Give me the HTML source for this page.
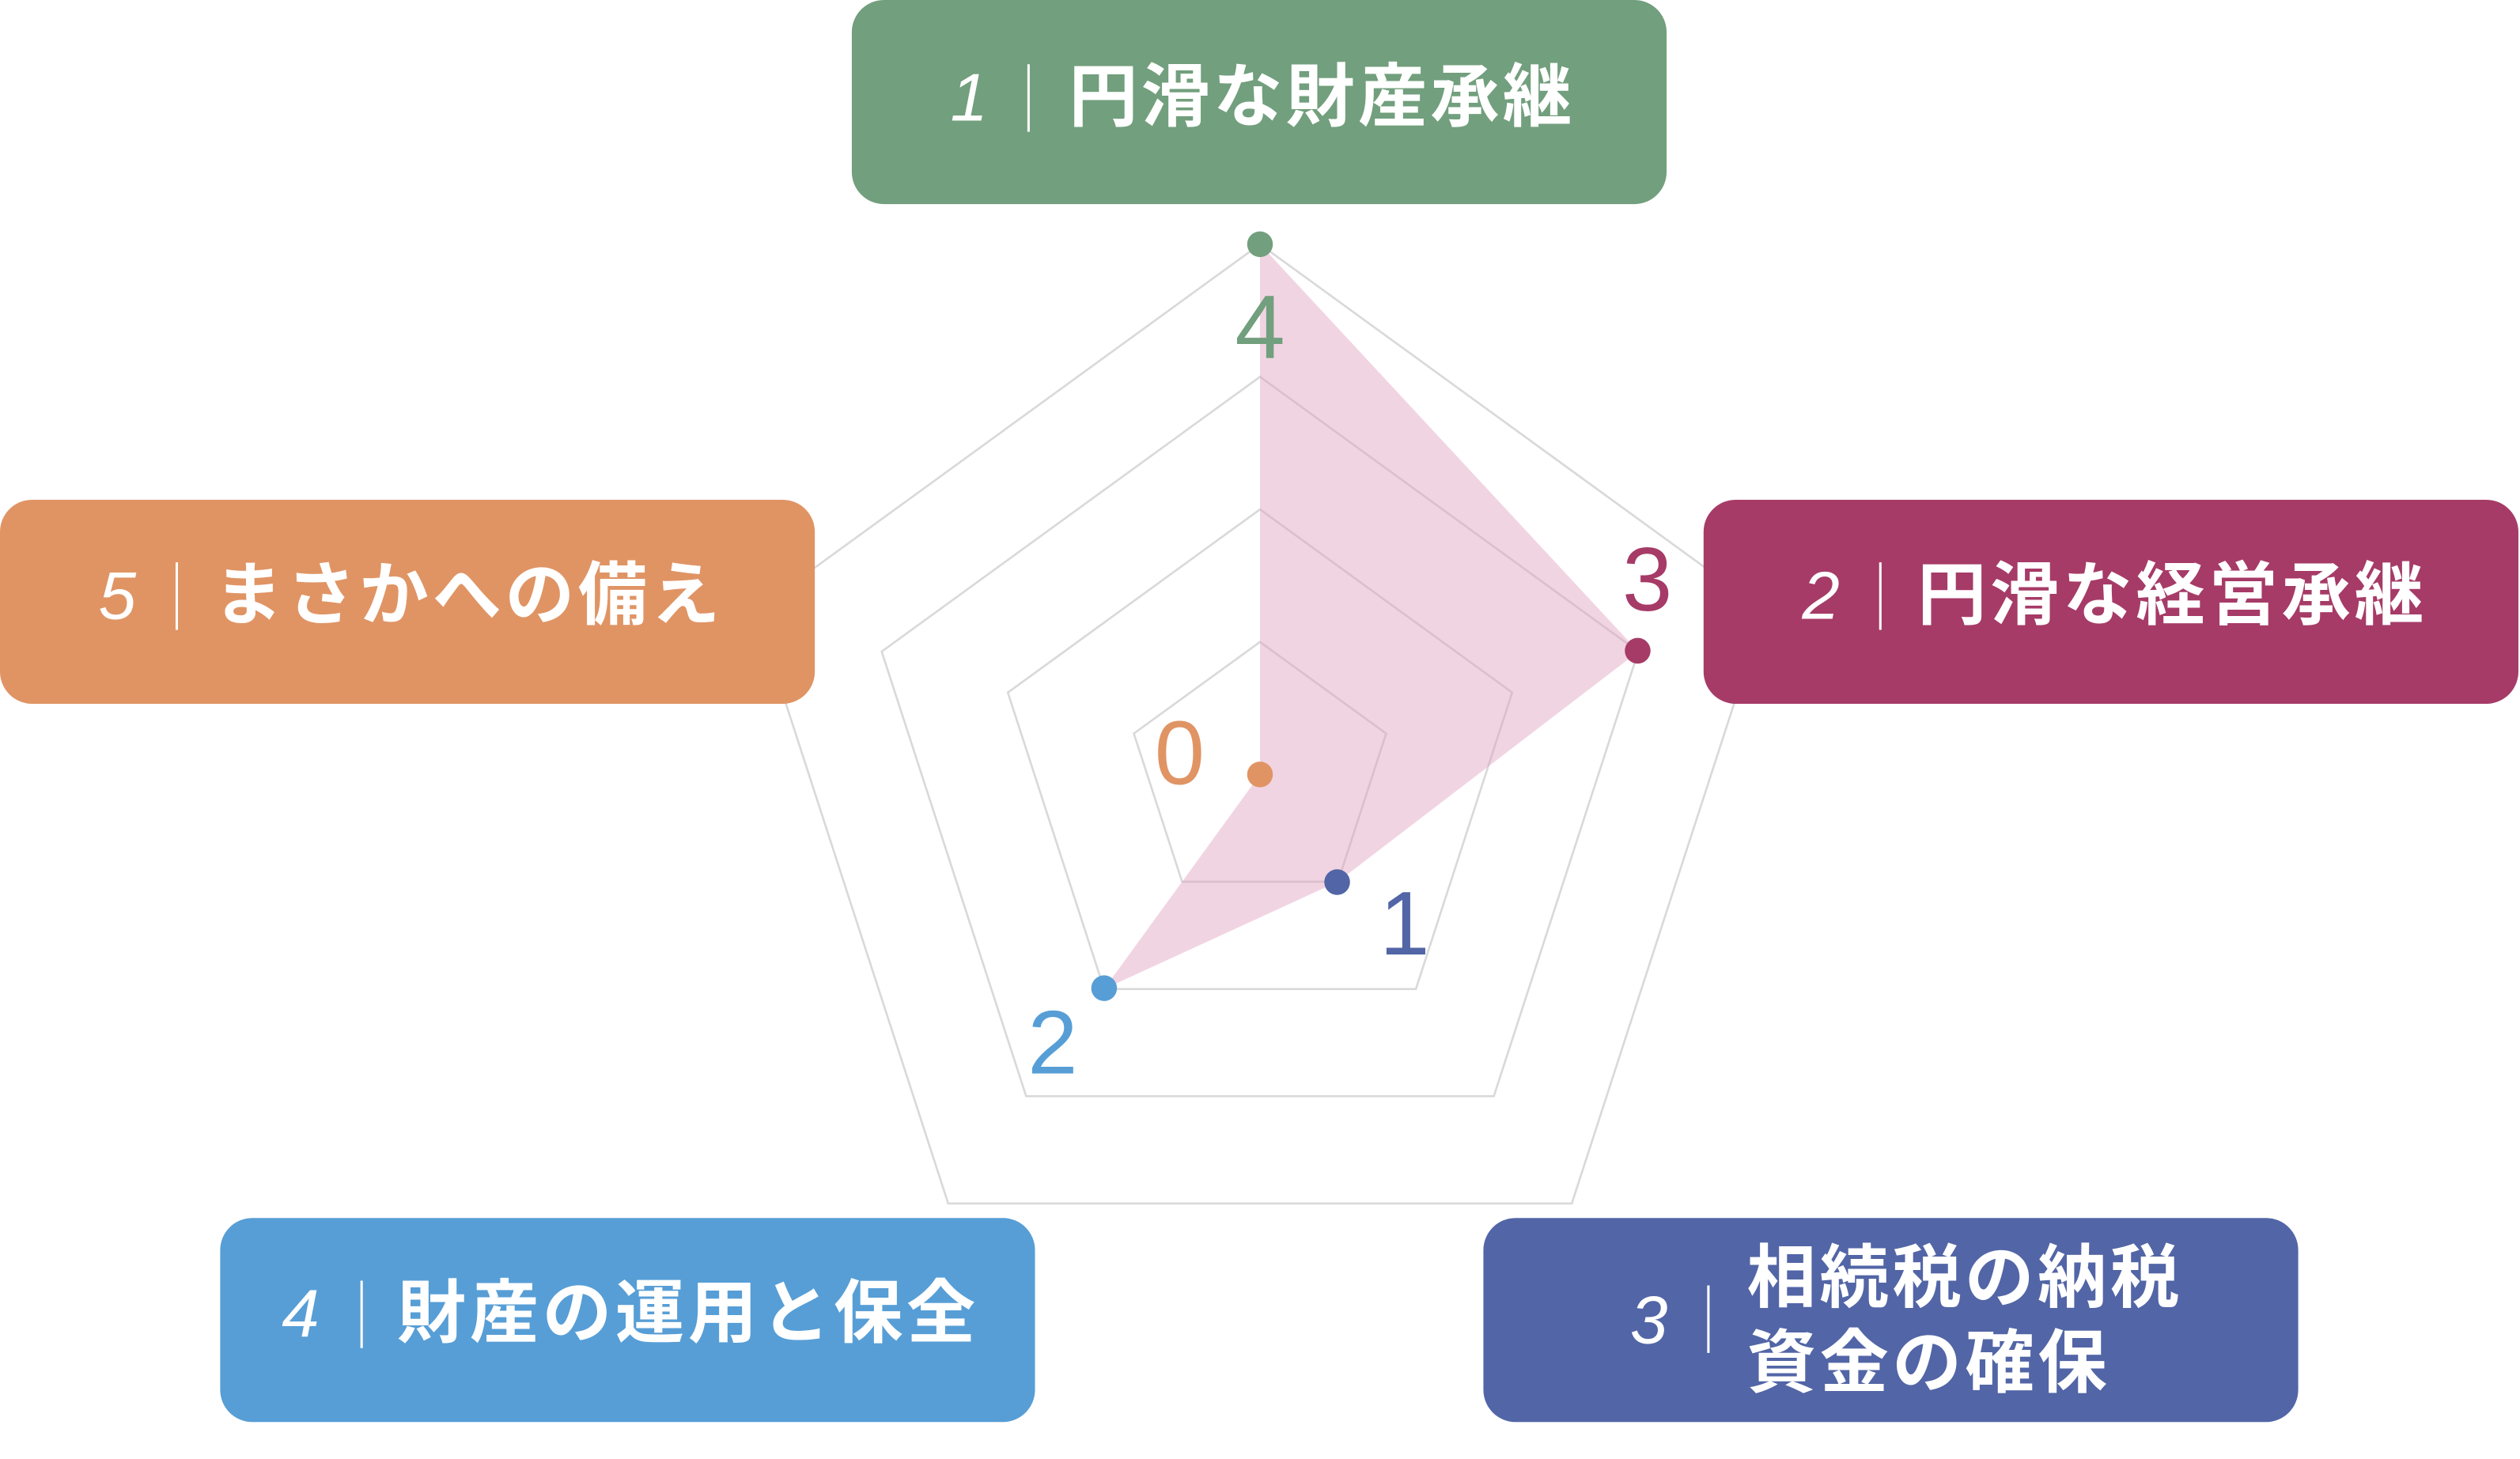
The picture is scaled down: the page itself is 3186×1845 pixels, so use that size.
<!DOCTYPE html>
<html><head><meta charset="utf-8"><style>
html,body{margin:0;padding:0;background:#fff;}
svg{display:block;}
.t{font-family:"Liberation Sans","Noto Sans CJK JP",sans-serif;font-weight:bold;fill:#fff;font-size:43px;}
.n{font-family:"Liberation Sans","Noto Sans CJK JP",sans-serif;font-style:italic;fill:#fff;font-size:42px;}
.v{font-family:"Liberation Sans",sans-serif;font-size:56px;}
</style></head><body>
<svg width="3186" height="1845" viewBox="0 0 1568 908" xmlns="http://www.w3.org/2000/svg">
<g fill="none" stroke="#d9d9d9" stroke-width="1.3">
<polygon points="784,152 1097.8,380.0 978.0,749.0 590.0,749.0 470.2,380.0"/>
<polygon points="784,234.5 1019.4,405.5 929.5,682.2 638.5,682.2 548.6,405.5"/>
<polygon points="784,317 940.9,431.0 881.0,615.5 687.0,615.5 627.1,431.0"/>
<polygon points="784,399.5 862.5,456.5 832.5,548.7 735.5,548.7 705.5,456.5"/>
</g>
<polygon points="784,152 1019.4,405.5 832.5,548.7 687.0,615.5 784,482" fill="rgb(225,160,190)" fill-opacity="0.45"/>
<circle cx="784" cy="152" r="8" fill="#729F7D"/>
<circle cx="1019" cy="405" r="8" fill="#A63B67"/>
<circle cx="832" cy="549" r="8" fill="#5265A6"/>
<circle cx="687" cy="615" r="8" fill="#579ED6"/>
<circle cx="784" cy="482" r="8" fill="#E09464"/>
<text class="v" x="784" y="223" fill="#729F7D" text-anchor="middle">4</text>
<text class="v" x="1025" y="380" fill="#A63B67" text-anchor="middle">3</text>
<text class="v" x="874" y="594" fill="#5265A6" text-anchor="middle">1</text>
<text class="v" x="655" y="668" fill="#579ED6" text-anchor="middle">2</text>
<text class="v" x="734" y="488" fill="#E09464" text-anchor="middle">0</text>

<rect x="530" y="0" width="507" height="127" rx="20" fill="#729F7D"/>
<text class="n" x="603" y="75" text-anchor="middle">1</text>
<line x1="640" y1="40" x2="640" y2="82" stroke="#fff" stroke-width="1.5"/>
<text class="t" x="665" y="75" textLength="313">円滑な財産承継</text>

<rect x="1060" y="311" width="507" height="127" rx="20" fill="#A63B67"/>
<text class="n" x="1133" y="385" text-anchor="middle">2</text>
<line x1="1170" y1="350" x2="1170" y2="392" stroke="#fff" stroke-width="1.5"/>
<text class="t" x="1193" y="385" textLength="315">円滑な経営承継</text>

<rect x="0" y="311" width="507" height="127" rx="20" fill="#E09464"/>
<text class="n" x="73" y="385" text-anchor="middle">5</text>
<line x1="110" y1="350" x2="110" y2="392" stroke="#fff" stroke-width="1.5"/>
<text class="t" x="133" y="385" textLength="315">まさかへの備え</text>

<rect x="137" y="758" width="507" height="127" rx="20" fill="#579ED6"/>
<text class="n" x="187" y="832" text-anchor="middle">4</text>
<line x1="225" y1="797" x2="225" y2="839" stroke="#fff" stroke-width="1.5"/>
<text class="t" x="247" y="832" textLength="360">財産の運用と保全</text>

<rect x="923" y="758" width="507" height="127" rx="20" fill="#5265A6"/>
<text class="n" x="1026" y="836" text-anchor="middle">3</text>
<line x1="1063" y1="800" x2="1063" y2="842" stroke="#fff" stroke-width="1.5"/>
<text class="t" x="1087" y="810" textLength="269">相続税の納税</text>
<text class="t" x="1087" y="863" textLength="224">資金の確保</text>
</svg>
</body></html>
